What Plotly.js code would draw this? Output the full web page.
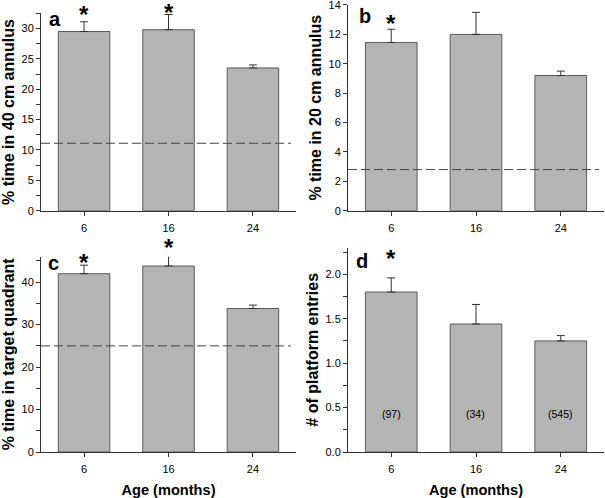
<!DOCTYPE html>
<html>
<head>
<meta charset="utf-8">
<script src="https://cdn.plot.ly/plotly-3.0.1.min.js"></script>
<style>html,body{margin:0;padding:0;background:#fff;}#chart{width:605px;height:498px;}</style>
</head>
<body>
<div id="chart"></div>
<script>
// ---- data ----
const ages = ['6', '16', '24'];
const pctTime40 = [29.5, 29.8, 23.5];
const err40 = [1.6, 2.5, 0.5];
const pctTime20 = [11.45, 12.0, 9.2];
const err20 = [0.9, 1.5, 0.3];
const pctQuadrant = [42.0, 43.8, 33.8];
const errQuadrant = [2.0, 3.1, 0.8];
const platformEntries = [1.80, 1.44, 1.25];
const errEntries = [0.16, 0.22, 0.06];
const nLabels = ['(97)', '(34)', '(545)'];
const chanceLevels = [11.1, 2.8, 25.0];
const signif40 = [true, true, false];
const signif20 = [true, false, false];
const signifQuadrant = [true, true, false];
const signifEntries = [true, false, false];
const panelLetters = ['a', 'b', 'c', 'd'];
const yTitles = ['% time in 40 cm annulus', '% time in 20 cm annulus', '% time in target quadrant', '# of platform entries'];
const xTitle = 'Age (months)';

// ---- styling ----
const FONT = 'Liberation Sans, Arial, sans-serif';
const barFill = '#b4b4b4';
const barLine = '#5a5a5a';
const axisCol = '#333333';

function barTrace(vals, errs, xa, ya) {
  return {
    type: 'bar', x: ages, y: vals, xaxis: xa, yaxis: ya,
    width: 0.61,
    marker: {color: barFill, line: {color: barLine, width: 1}},
    error_y: {type: 'data', array: errs, arrayminus: errs.map(() => 0), symmetric: false,
              color: '#333', thickness: 1, width: 4},
    hoverinfo: 'skip', showlegend: false
  };
}

const yRanges = [[0, 32.5], [0, 14.02], [0, 46], [0, 2.3]];
const panels = [
  {vals: pctTime40, errs: err40, sig: signif40, chance: chanceLevels[0]},
  {vals: pctTime20, errs: err20, sig: signif20, chance: chanceLevels[1]},
  {vals: pctQuadrant, errs: errQuadrant, sig: signifQuadrant, chance: chanceLevels[2]},
  {vals: platformEntries, errs: errEntries, sig: signifEntries, chance: null}
];
const axIds = [['x', 'y'], ['x2', 'y2'], ['x3', 'y3'], ['x4', 'y4']];
const data = panels.map((p, i) => barTrace(p.vals, p.errs, axIds[i][0], axIds[i][1]));

const W = 605, H = 498;
const py = px => 1 - px / H;
const xDomL = [41 / W, 296 / W], xDomR = [348 / W, 604 / W];

function xAxis(domain, anchor, withTitle) {
  const ax = {
    domain: domain, anchor: anchor, type: 'category', range: [-0.51, 2.51],
    showline: true, linecolor: axisCol, linewidth: 1, ticks: 'outside', ticklen: 4,
    tickcolor: axisCol, showgrid: false, zeroline: false, fixedrange: true,
    ticklabelstandoff: 3,
    tickfont: {family: FONT, size: 11, color: '#000'}
  };
  if (withTitle) ax.title = {text: xTitle, font: {family: FONT, size: 14.6, color: '#000', weight: 'bold'}, standoff: 10};
  return ax;
}
function yAxis(domain, anchor, range, dtick, minorDtick, fmt, title, standoff) {
  const ax = {
    domain: domain, anchor: anchor, range: range, dtick: dtick, tick0: 0,
    showline: true, linecolor: axisCol, linewidth: 1, ticks: 'outside', ticklen: 4,
    tickcolor: axisCol, showgrid: false, zeroline: false, fixedrange: true,
    ticklabeloverflow: 'allow',
    tickfont: {family: FONT, size: 11, color: '#000'},
    title: {text: title, font: {family: FONT, size: 16, color: '#000', weight: 'bold'}, standoff: standoff}
  };
  if (fmt) ax.tickformat = fmt;
  if (minorDtick) ax.minor = {dtick: minorDtick, ticks: 'outside', ticklen: 4, tickcolor: axisCol, showgrid: false};
  return ax;
}

const layout = {
  width: W, height: H, margin: {l: 0, r: 0, t: 0, b: 0},
  paper_bgcolor: '#fff', plot_bgcolor: '#fff',
  font: {family: FONT, color: '#000'},
  xaxis: xAxis(xDomL, 'y', false),
  yaxis: yAxis([py(210.7), py(13.3)], 'x', yRanges[0], 5, 2.5, null, yTitles[0], 7),
  xaxis2: xAxis(xDomR, 'y2', false),
  yaxis2: yAxis([py(210.7), py(4.7)], 'x2', yRanges[1], 2, null, null, yTitles[1], 2),
  xaxis3: xAxis(xDomL, 'y3', true),
  yaxis3: yAxis([py(452), py(256.7)], 'x3', yRanges[2], 10, 5, null, yTitles[2], 7),
  xaxis4: xAxis(xDomR, 'y4', true),
  yaxis4: yAxis([py(452), py(247.6)], 'x4', yRanges[3], 0.5, 0.25, '.1f', yTitles[3], 2),
  shapes: [], annotations: []
};

// chance-level dashed lines
panels.forEach((p, i) => {
  if (p.chance === null) return;
  layout.shapes.push({
    type: 'line', xref: axIds[i][0] + ' domain', yref: axIds[i][1],
    x0: 0, x1: 0.98, y0: p.chance, y1: p.chance,
    line: {color: '#444', width: 1, dash: '9px,4px'}, layer: 'above'
  });
});

// significance stars (pixel offset above the error bar top)
const starShift = [[7, 2, 0], [6, 0, 0], [3, 5, 0], [19, 0, 0]];
panels.forEach((p, i) => {
  p.sig.forEach((s, j) => {
    if (!s) return;
    layout.annotations.push({
      xref: axIds[i][0], yref: axIds[i][1] + ' domain', x: j,
      y: (p.vals[j] + p.errs[j]) / yRanges[i][1],
      text: '*', showarrow: false, xanchor: 'center', yanchor: 'middle',
      yshift: starShift[i][j], borderpad: 0,
      font: {family: FONT, size: 24, color: '#000', weight: 'bold'}
    });
  });
});

// panel letters
const letterPos = [[55, 19], [365, 16], [53, 263], [362, 261]];
panelLetters.forEach((L, i) => {
  layout.annotations.push({
    xref: 'paper', yref: 'paper', x: letterPos[i][0] / W, y: py(letterPos[i][1]),
    text: L, showarrow: false, xanchor: 'center', yanchor: 'middle',
    font: {family: FONT, size: 20, color: '#000', weight: 'bold'}
  });
});

// n labels inside bars of panel d
nLabels.forEach((t, j) => {
  layout.annotations.push({
    xref: 'x4', yref: 'y4', x: j, y: 0.43, text: t, showarrow: false,
    xanchor: 'center', yanchor: 'middle', font: {family: FONT, size: 10.5, color: '#000'}
  });
});

Plotly.newPlot('chart', data, layout, {staticPlot: true, displayModeBar: false});
</script>
</body>
</html>
